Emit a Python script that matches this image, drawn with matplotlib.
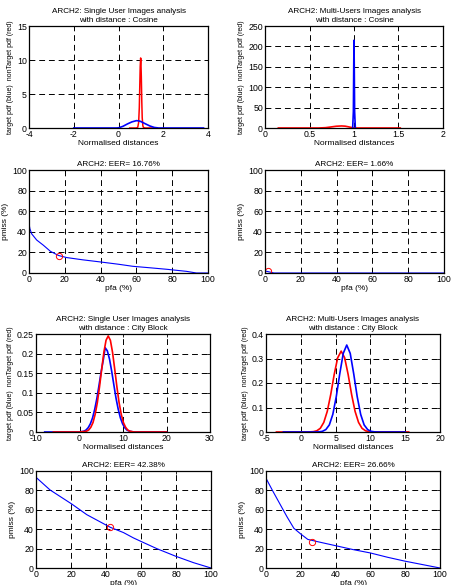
import matplotlib
matplotlib.use('Agg')
import matplotlib.pyplot as plt

plt.rcParams['font.family'] = ['Liberation Sans', 'DejaVu Sans']
plt.rcParams['xtick.direction'] = 'in'
plt.rcParams['ytick.direction'] = 'in'

# ---- panel 1 : single user, cosine
cos1_red_x = [0.5, 0.8, 0.86, 0.9, 0.93, 0.95, 0.97, 0.99, 1.0, 1.02, 1.04, 1.06, 1.09, 1.12, 1.2, 1.5]
cos1_red_y = [0, 0, 0.1, 0.8, 3.0, 6.0, 9.0, 10.3, 10.0, 7.5, 4.0, 1.5, 0.3, 0.05, 0, 0]
cos1_blue_x = [-2, -0.1, 0.0, 0.2, 0.4, 0.6, 0.8, 0.9, 1.0, 1.2, 1.4, 1.6, 1.8, 3.8]
cos1_blue_y = [0, 0, 0.02, 0.25, 0.6, 0.9, 1.08, 1.05, 0.95, 0.62, 0.3, 0.08, 0, 0]

# ---- panel 2 : multi users, cosine
cos2_red_x = [0.15, 0.6, 0.68, 0.74, 0.8, 0.86, 0.9, 0.94, 0.98, 1.0, 1.52]
cos2_red_y = [0, 0, 0.8, 2.5, 4.3, 5.0, 4.5, 2.8, 0.8, 0, 0]
cos2_blue_x = [0.985, 0.993, 0.997, 1.0, 1.003, 1.007, 1.015]
cos2_blue_y = [0, 40, 150, 215, 150, 40, 0]

# ---- panel 3 / 4 : DET, cosine
det1_pfa = [0, 0, 0.5, 1.5, 4.3, 8, 12, 16.5, 21, 30, 40, 50, 58, 68, 77, 88, 93.5, 100]
det1_pmiss = [100, 48, 43, 38, 32, 27, 21, 17, 15, 12.8, 10.7, 8.5, 6.5, 5.0, 3.6, 1.6, 0, 0]
eer1 = 16.76
det2_pfa = [0, 0, 1, 2, 3, 5, 100]
det2_pmiss = [100, 2, 1.6, 1.2, 0.8, 0, 0]
eer2 = 1.66

# ---- panel 5 : single user, city block
cb1_blue_x = [-8, 0, 1.0, 1.5, 2.0, 2.5, 3.0, 3.5, 4.0, 4.5, 5.0, 5.5, 5.9, 6.4, 6.9, 7.4, 7.9, 8.4,
              8.9, 9.4, 9.9, 10.4, 10.9, 11.5, 12.5, 20]
cb1_blue_y = [0, 0, 0.002, 0.005, 0.011, 0.021, 0.036, 0.058, 0.086, 0.12, 0.155, 0.186, 0.215, 0.207,
              0.186, 0.155, 0.12, 0.086, 0.058, 0.036, 0.021, 0.011, 0.005, 0.002, 0, 0]
cb1_red_x = [-6, 0, 1.6, 2.1, 2.6, 3.1, 3.6, 4.1, 4.6, 5.1, 5.6, 6.1, 6.6, 7.1, 7.6, 8.1, 8.6, 9.1,
             9.6, 10.1, 10.6, 11.1, 11.6, 12.5, 20]
cb1_red_y = [0, 0, 0.002, 0.005, 0.012, 0.024, 0.045, 0.075, 0.115, 0.16, 0.203, 0.234, 0.245, 0.234,
             0.203, 0.16, 0.115, 0.075, 0.045, 0.024, 0.012, 0.005, 0.002, 0, 0]
det3_pfa = [0, 8, 20.4, 29, 42.4, 50, 55.7, 60, 69, 80, 90, 100]
det3_pmiss = [93.5, 80.5, 66, 55, 42, 36.5, 31, 27.4, 20, 12, 5.5, 0]
eer3 = 42.38

# ---- panel 6 : multi users, city block
cb2_red_x = [-3.5, 1.0, 1.8, 2.3, 2.8, 3.3, 3.8, 4.3, 4.8, 5.3, 5.8, 6.3, 6.8, 7.3, 7.8, 8.3, 8.8, 9.3,
             9.8, 10.6, 15.5]
cb2_red_y = [0, 0, 0.0014, 0.005, 0.015, 0.039, 0.084, 0.153, 0.235, 0.303, 0.33, 0.303, 0.235, 0.153,
             0.084, 0.039, 0.015, 0.005, 0.0014, 0, 0]
cb2_blue_x = [-2.5, 2.0, 2.6, 3.1, 3.6, 4.1, 4.6, 5.1, 5.6, 6.1, 6.6, 7.1, 7.6, 8.1, 8.6, 9.1, 9.6, 10.1,
              10.6, 11.3, 15]
cb2_blue_y = [0, 0, 0.0006, 0.0027, 0.010, 0.029, 0.072, 0.145, 0.238, 0.321, 0.355, 0.321, 0.238, 0.145,
              0.072, 0.029, 0.010, 0.0027, 0.0006, 0, 0]
det4_pfa = [0, 4, 8, 12, 16, 20, 24, 30, 40, 50, 60, 70, 80, 90, 100]
det4_pmiss = [92.5, 79, 66, 53, 41, 35, 29.5, 27, 23, 19, 15.5, 11, 7, 3.5, 0]
eer4 = 26.66

W, H = 451, 585
fig = plt.figure(figsize=(W / 100, H / 100), dpi=100)


def make_ax(x0, x1, y0, y1):
    ax = fig.add_axes([x0 / W, 1 - y1 / H, (x1 - x0) / W, (y1 - y0) / H])
    ax.tick_params(labelsize=6.3, length=2, width=0.6, top=True, right=True, pad=1.5)
    for s in ax.spines.values():
        s.set_linewidth(0.9)
    ax.grid(True, color='black', linewidth=0.7, dashes=(6, 4))
    ax.set_axisbelow(True)
    return ax


def pdf_panel(ax, title, xlim, xticks, xtl, ylim, yticks, ytl):
    ax.set_xlim(xlim)
    ax.set_ylim(ylim)
    ax.set_xticks(xticks)
    ax.set_xticklabels(xtl)
    ax.set_yticks(yticks)
    ax.set_yticklabels(ytl)
    ax.set_title(title, fontsize=5.9, pad=3, linespacing=1.3)
    ax.set_xlabel('Normalised distances', fontsize=6, labelpad=1)
    ax.set_ylabel('target pdf (blue)  nonTarget pdf (red)', fontsize=5.0, labelpad=2)


def det_panel(ax, title, pfa, pmiss, eer):
    ax.plot(pfa, pmiss, color='blue', linewidth=0.8)
    ax.plot([eer], [eer], 'o', markerfacecolor='none', markeredgecolor='red', markersize=4.5, markeredgewidth=0.7)
    ax.set_xlim(0, 100)
    ax.set_ylim(0, 100)
    ax.set_xticks(range(0, 101, 20))
    ax.set_yticks(range(0, 101, 20))
    ax.set_title(title, fontsize=5.9, pad=3)
    ax.set_xlabel('pfa (%)', fontsize=6, labelpad=1)
    ax.set_ylabel('pmiss (%)', fontsize=6, labelpad=2)


# panel 1
ax = make_ax(29, 208, 26, 128)
ax.plot(cos1_red_x, cos1_red_y, color='red', linewidth=1.1)
ax.plot(cos1_blue_x, cos1_blue_y, color='blue', linewidth=1.2)
pdf_panel(ax, 'ARCH2: Single User Images analysis\nwith distance : Cosine',
          (-4, 4), [-4, -2, 0, 2, 4], ['-4', '-2', '0', '2', '4'],
          (0, 15), [0, 5, 10, 15], ['0', '5', '10', '15'])

# panel 2
ax = make_ax(265, 443, 26, 128)
ax.plot(cos2_red_x, cos2_red_y, color='red', linewidth=1.2)
ax.plot(cos2_blue_x, cos2_blue_y, color='blue', linewidth=1.2)
pdf_panel(ax, 'ARCH2: Multi-Users Images analysis\nwith distance : Cosine',
          (0, 2), [0, 0.5, 1, 1.5, 2], ['0', '0.5', '1', '1.5', '2'],
          (0, 250), [0, 50, 100, 150, 200, 250], ['0', '50', '100', '150', '200', '250'])

# panel 3, 4
det_panel(make_ax(29, 208, 170, 273), 'ARCH2: EER= 16.76%', det1_pfa, det1_pmiss, eer1)
det_panel(make_ax(265, 444, 170, 273), 'ARCH2: EER= 1.66%', det2_pfa, det2_pmiss, eer2)

# panel 5
ax = make_ax(36, 210, 334, 432)
ax.plot(cb1_blue_x, cb1_blue_y, color='blue', linewidth=1.2)
ax.plot(cb1_red_x, cb1_red_y, color='red', linewidth=1.2)
pdf_panel(ax, 'ARCH2: Single User Images analysis\nwith distance : City Block',
          (-10, 30), [-10, 0, 10, 20, 30], ['-10', '0', '10', '20', '30'],
          (0, 0.25), [0, 0.05, 0.1, 0.15, 0.2, 0.25], ['0', '0.05', '0.1', '0.15', '0.2', '0.25'])

# panel 6
ax = make_ax(266, 440, 334, 432)
ax.plot(cb2_red_x, cb2_red_y, color='red', linewidth=1.2)
ax.plot(cb2_blue_x, cb2_blue_y, color='blue', linewidth=1.2)
pdf_panel(ax, 'ARCH2: Multi-Users Images analysis\nwith distance : City Block',
          (-5, 20), [-5, 0, 5, 10, 15, 20], ['-5', '0', '5', '10', '15', '20'],
          (0, 0.4), [0, 0.1, 0.2, 0.3, 0.4], ['0', '0.1', '0.2', '0.3', '0.4'])

# panel 7, 8
det_panel(make_ax(36, 211, 471, 568), 'ARCH2: EER= 42.38%', det3_pfa, det3_pmiss, eer3)
det_panel(make_ax(266, 440, 471, 568), 'ARCH2: EER= 26.66%', det4_pfa, det4_pmiss, eer4)

fig.savefig('out.png', dpi=100)
